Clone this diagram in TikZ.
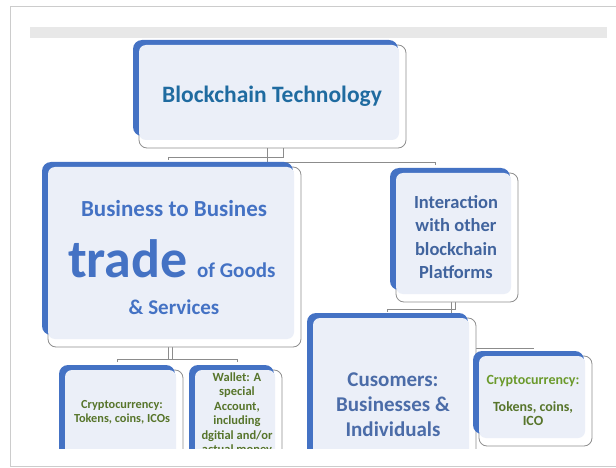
\documentclass[tikz,border=0pt]{standalone}
\usepackage{fontspec}
\setmainfont{Carlito}
\usepackage{tikz}
\usetikzlibrary{positioning, calc, backgrounds}
\definecolor{cardblue}{HTML}{4472C4}
\definecolor{cardfillc}{HTML}{EBEFF8}
\definecolor{cardgray}{HTML}{8F8F8F}
\definecolor{linkgray}{HTML}{8C8C8C}
\definecolor{bargray}{HTML}{E8E8E8}
\definecolor{tealtext}{HTML}{1F6BA0}
\definecolor{bluetext}{HTML}{4472C4}
\definecolor{slatetext}{HTML}{41649E}
\definecolor{custtext}{HTML}{4B6CA8}
\definecolor{greentext}{HTML}{57752B}
\definecolor{lightgreen}{HTML}{6B9A2C}

\tikzset{
  card/.style={draw=cardgray, fill=white, line width=0.8pt, rounded corners=8pt,
    inner sep=0pt, outer sep=0pt, anchor=north west},
  cardback/.style={fill=cardblue, rounded corners=9pt},
  cardfill/.style={fill=cardfillc, rounded corners=7pt},
  link/.style={draw=linkgray, line width=0.8pt},
  cardtext/.style={align=center, inner sep=0pt, font=\bfseries}
}

\begin{document}
\begin{tikzpicture}[x=1pt, y=-1pt]
            \useasboundingbox (0,0) rectangle (616,468);
            \draw[black!20, line width=0.8pt] (616,6) -- (10,6) -- (10,466) -- (616,466);
            \fill[bargray] (30,27) rectangle (607,38);

            \begin{scope}
            \clip (10,38) rectangle (616,448);
            % front outlines
            \node[card, minimum width=267pt, minimum height=103pt] (blk) at (139,45) {};
            \node[card, minimum width=253pt, minimum height=180pt] (btob) at (48,167) {};
            \node[card, minimum width=122pt, minimum height=129pt] (inter) at (396,173) {};
            \node[card, minimum width=163pt, minimum height=152pt] (cust) at (313,318) {};
            \node[card, minimum width=118pt, minimum height=100pt] (crypa) at (65,370) {};
            \node[card, minimum width=87pt, minimum height=100pt] (wallet) at (195,370) {};
            \node[card, minimum width=113pt, minimum height=90pt] (crypb) at (479,356) {};

            % blue back and light face
            \foreach \n in {blk, btob, inter, cust, crypa, wallet, crypb} {
                \fill[cardback] ($(\n.north west)+(-6,-5)$) rectangle ($(\n.south east)+(-8,-12)$);
                \fill[cardfill] (\n.north west) rectangle ($(\n.south east)+(-7,-8)$);
            }

            \node[cardtext, anchor=base, text=tealtext, font=\bfseries\fontsize{23.5}{28}\selectfont] (blktext) at (272,103) {Blockchain Technology};

            \node[cardtext, anchor=base, text=bluetext, font=\bfseries\fontsize{23}{28}\selectfont] (btobtop) at (174,216) {Business to Busines};
            \node[cardtext, anchor=base west, text=bluetext, font=\bfseries\fontsize{54}{60}\selectfont] (trade) at (68,277) {trade};
            \node[cardtext, right=9pt of trade.base east, anchor=base west, text=bluetext, font=\bfseries\fontsize{21}{26}\selectfont] (goods) {of Goods};
            \node[cardtext, anchor=base, text=bluetext, font=\bfseries\fontsize{21}{26}\selectfont] (services) at (174,314) {\& Services};

            \node[cardtext, text=slatetext, font=\bfseries\fontsize{18.5}{23.5}\selectfont] (intertext) at (456,237) {Interaction\\with other\\blockchain\\Platforms};

            \node[cardtext, text=custtext, font=\bfseries\fontsize{21}{25}\selectfont] (custtext) at (393,405) {Cusomers:\\Businesses \&\\Individuals};

            \node[cardtext, text=greentext, font=\bfseries\fontsize{12.3}{14}\selectfont] (crypatext) at (122,412) {Cryptocurrency:\\Tokens, coins, ICOs};
            \node[cardtext, text=greentext, font=\bfseries\fontsize{12.5}{14.4}\selectfont] (wallettext) at (237,414) {Wallet: A\\special\\Account,\\including\\dgitial and/or\\actual money};

            \node[cardtext, anchor=base, text=lightgreen, font=\bfseries\fontsize{14}{16}\selectfont] (crypbhead) at (533,384) {Cryptocurrency:};
            \node[cardtext, text=greentext, font=\bfseries\fontsize{14}{14}\selectfont] (crypbtext) at (533,413.5) {Tokens, coins,\\ICO};
            \end{scope}

            % connectors behind the cards
            \begin{scope}[on background layer]
            \draw[link] ($(blk.south west)+(128,0)$) -- (btob.north -| {$(blk.south west)+(128,0)$});
            \draw[link] ($(blk.south west)+(144,0)$) -- ($(blk.south west)+(144,9)$) -- ($(btob.north west)+(120,-10)$) -- ($(btob.north west)+(120,-7)$);
            \draw[link] ($(btob.north)+(0,-5)$) -- ($(inter.north west)+(39,-11)$) -- ($(inter.north west)+(39,-8)$);
            \draw[link] ($(btob.south west)+(120,0)$) -- ($(btob.south west)+(120,12)$);
            \draw[link] ($(btob.south west)+(124,0)$) -- ($(btob.south west)+(124,12)$);
            \draw[link] ($(crypa.north west)+(52,-8)$) -- ($(crypa.north west)+(52,-11)$) -- ($(wallet.north west)+(42,-11)$) -- ($(wallet.north west)+(42,-8)$);
            \draw[link] ($(inter.south west)+(55,0)$) -- ($(cust.north west)+(138,0)$);
            \draw[link] ($(inter.south west)+(59,0)$) -- ($(inter.south west)+(59,7)$) -- ($(cust.north west)+(74,-9)$) -- ($(cust.north west)+(74,-6)$);
            \draw[link] ($(cust.north east)+(0,30)$) -- ($(crypb.north west)+(55,-8)$);
            \end{scope}
        \end{tikzpicture}
\end{document}
